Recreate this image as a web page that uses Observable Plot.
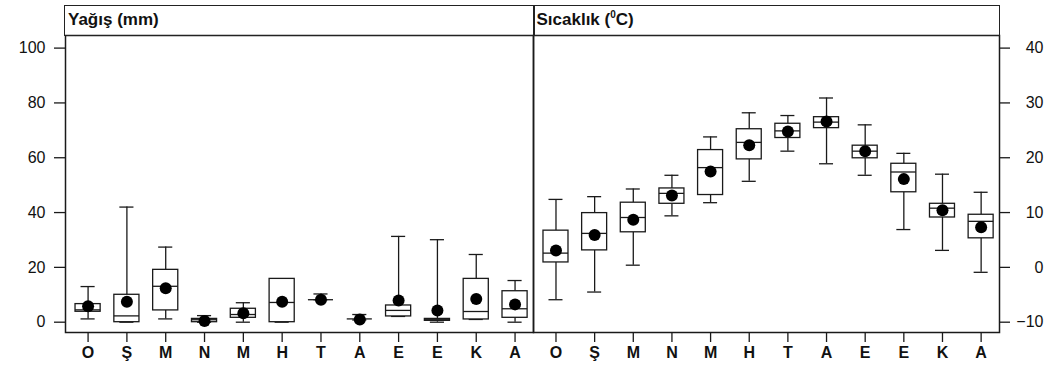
<!DOCTYPE html>
<html>
<head>
<meta charset="utf-8">
<script src="https://cdn.jsdelivr.net/npm/d3@7"></script>
<script src="https://cdn.jsdelivr.net/npm/@observablehq/plot@0.6"></script>
<style>
  html, body { margin: 0; padding: 0; background: #fff; }
  #wrap { position: relative; width: 1049px; height: 366px; overflow: hidden; font-family: "Liberation Sans", Arial, sans-serif; }
  #wrap svg { position: absolute; top: 0; overflow: visible; }
  .hdr { position: absolute; top: 5px; height: 31px; box-sizing: border-box; border: 1.5px solid #222; font-weight: bold; font-size: 17px; line-height: 28px; padding-left: 3px; color: #111; }
  .hdr sup { font-size: 10px; line-height: 0; vertical-align: 7px; }
  g[aria-label="x-axis tick label"] text { font-weight: bold; }
</style>
</head>
<body>
<div id="wrap">
  <div class="hdr" style="left:64px; width:470.5px;">Yağış (mm)</div>
  <div class="hdr" style="left:532.5px; width:467.5px;">Sıcaklık (<sup>0</sup>C)</div>
</div>
<script>
const months = ["Ocak","Şubat","Mart","Nisan","Mayıs","Haziran","Temmuz","Ağustos","Eylül","Ekim","Kasım","Aralık"];
const monthLetters = ["O","Ş","M","N","M","H","T","A","E","E","K","A"];

// Yağış (mm)
const rainMin  = [1.2, 0.0, 1.2, 0.0, 0.0, 0.0, 8.2, 0.8, 2.1, 0.0, 1.0, 0.0];
const rainQ1   = [3.8, 0.0, 4.3, 0.0, 1.6, 0.0, 8.2, 1.2, 2.1, 0.5, 1.0, 1.6];
const rainMed  = [4.5, 2.3, 13.1, 0.9, 2.8, 7.2, 8.2, 1.2, 4.3, 0.9, 3.9, 4.9];
const rainQ3   = [6.6, 10.0, 19.1, 1.2, 4.9, 15.8, 8.2, 1.2, 6.1, 1.2, 15.8, 11.3];
const rainMax  = [13.0, 42.0, 27.4, 2.4, 7.1, 15.8, 10.3, 2.8, 31.3, 30.1, 24.7, 15.2];
const rainMean = [5.8, 7.5, 12.4, 0.4, 3.3, 7.5, 8.2, 1.0, 7.9, 4.3, 8.5, 6.5];

// Sıcaklık (°C)
const tempMin  = [-5.9, -4.5, 0.4, 9.4, 11.8, 15.7, 21.2, 18.9, 16.8, 6.9, 3.1, -0.9];
const tempQ1   = [0.9, 3.1, 6.4, 11.6, 13.2, 19.7, 23.6, 25.4, 19.9, 13.7, 9.1, 5.3];
const tempMed  = [2.6, 6.2, 9.1, 13.5, 18.2, 22.8, 24.9, 26.5, 21.2, 17.4, 10.8, 8.4];
const tempQ3   = [6.7, 9.9, 11.8, 14.4, 21.4, 25.2, 26.2, 27.4, 22.2, 18.9, 11.6, 9.6];
const tempMax  = [12.4, 12.9, 14.3, 16.8, 23.8, 28.2, 27.7, 30.9, 26.0, 20.8, 17.0, 13.7];
const tempMean = [3.1, 5.9, 8.7, 13.1, 17.5, 22.3, 24.8, 26.6, 21.2, 16.1, 10.4, 7.3];

const rainTicks = [0, 20, 40, 60, 80, 100];
const tempTicks = [-10, 0, 10, 20, 30, 40];

const INK = "#1a1a1a";

function panel({min, q1, med, q3, max, mean, yDomain, ticks, anchor, width, marginLeft, marginRight}) {
  const rows = months.map((m, i) => ({m, min: min[i], q1: q1[i], med: med[i], q3: q3[i], max: max[i], mean: mean[i]}));
  const yAxis = anchor === "left"
    ? Plot.axisY({anchor: "left", ticks, tickSize: 11, tickPadding: 9, label: null, stroke: INK, strokeWidth: 1.3})
    : Plot.axisY({anchor: "right", ticks, tickSize: 10, tickPadding: 34, textAnchor: "end", label: null, stroke: INK, strokeWidth: 1.3});
  return Plot.plot({
    width, height: 366,
    marginTop: 35, marginBottom: 34, marginLeft, marginRight,
    style: {fontFamily: "'Liberation Sans', Arial, sans-serif", fontSize: "16px", color: "#111", background: "transparent", overflow: "visible"},
    x: {type: "band", domain: months, paddingInner: 0.353, paddingOuter: 0.205, align: 0.63, round: false},
    y: {domain: yDomain},
    marks: [
      Plot.frame({stroke: INK, strokeWidth: 1.5}),
      Plot.axisX({tickSize: 10, tickPadding: 4, tickFormat: m => monthLetters[months.indexOf(m)], fontWeight: "bold", label: null, stroke: INK, strokeWidth: 1.3}),
      yAxis,
      Plot.ruleX(rows, {x: "m", y1: "q3", y2: "max", stroke: INK, strokeWidth: 1.3}),
      Plot.ruleX(rows, {x: "m", y1: "min", y2: "q1", stroke: INK, strokeWidth: 1.3}),
      Plot.tickY(rows, {x: "m", y: "max", insetLeft: 5.5, insetRight: 5.5, stroke: INK, strokeWidth: 1.3}),
      Plot.tickY(rows, {x: "m", y: "min", insetLeft: 5.5, insetRight: 5.5, stroke: INK, strokeWidth: 1.3}),
      Plot.barY(rows, {x: "m", y1: "q1", y2: "q3", fill: "white", stroke: INK, strokeWidth: 1.3}),
      Plot.tickY(rows, {x: "m", y: "med", stroke: INK, strokeWidth: 1.3}),
      Plot.dot(rows, {x: "m", y: "mean", r: 6, fill: "black", stroke: "none"})
    ]
  });
}

const wrap = document.getElementById("wrap");

const left = panel({
  min: rainMin, q1: rainQ1, med: rainMed, q3: rainQ3, max: rainMax, mean: rainMean,
  yDomain: [-3.76, 104.6], ticks: rainTicks, anchor: "left",
  width: 534, marginLeft: 65, marginRight: 1
});
left.style.left = "0px";

const right = panel({
  min: tempMin, q1: tempQ1, med: tempMed, q3: tempQ3, max: tempMax, mean: tempMean,
  yDomain: [-11.88, 42.3], ticks: tempTicks, anchor: "right",
  width: 516, marginLeft: 0, marginRight: 50
});
right.style.left = "533px";

wrap.insertBefore(right, wrap.firstChild);
wrap.insertBefore(left, wrap.firstChild);
</script>
</body>
</html>
